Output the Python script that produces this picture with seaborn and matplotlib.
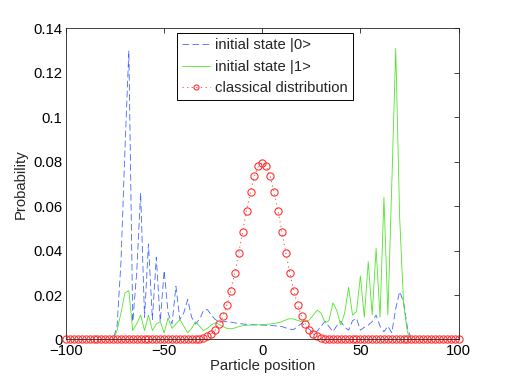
import matplotlib
matplotlib.use("Agg")
import matplotlib.pyplot as plt
import seaborn as sns
from matplotlib.ticker import FuncFormatter

# Particle positions (even sites only, 100 steps)
positions = list(range(-100, 101, 2))

# Probabilities, x = -100 ... 100
state0 = [
    0, 0, 0, 0, 0, 0, 0, 0, 0, 0, 0, 0, 0,                      # -100 .. -76
    0.006, 0.035, 0.085, 0.130, 0.008, 0.030, 0.066, 0.010,      # -74 .. -60
    0.043, 0.009, 0.037, 0.008, 0.031, 0.012, 0.007, 0.024,      # -58 .. -44
    0.009, 0.012, 0.018, 0.010, 0.007, 0.009, 0.013, 0.0135,     # -42 .. -28
    0.011, 0.009, 0.008, 0.008, 0.008, 0.0078, 0.0075, 0.0072,   # -26 .. -12
    0.007, 0.0068, 0.0067, 0.0066, 0.0065, 0.0065, 0.0064,       # -10 .. 2
    0.0063, 0.0062, 0.006, 0.0058, 0.0052, 0.0046, 0.0045,       # 4 .. 16
    0.0058, 0.0073, 0.0062, 0.0045, 0.0032, 0.0038, 0.006,       # 18 .. 30
    0.0082, 0.0058, 0.0035, 0.0062, 0.0082, 0.0055, 0.0042,      # 32 .. 44
    0.0085, 0.0095, 0.0042, 0.0055, 0.0065, 0.008, 0.011,        # 46 .. 58
    0.006, 0.0035, 0.006, 0.003, 0.014, 0.0215, 0.017, 0.005,    # 60 .. 74
    0, 0, 0, 0, 0, 0, 0, 0, 0, 0, 0, 0, 0,                      # 76 .. 100
]

state1 = [
    0, 0, 0, 0, 0, 0, 0, 0, 0, 0, 0, 0, 0,                      # -100 .. -76
    0.004, 0.012, 0.021, 0.022, 0.004, 0.007, 0.011, 0.004,      # -74 .. -60
    0.011, 0.004, 0.007, 0.008, 0.003, 0.0098, 0.005, 0.007,     # -58 .. -44
    0.009, 0.006, 0.003, 0.005, 0.008, 0.006, 0.004, 0.005,      # -42 .. -28
    0.0065, 0.0075, 0.0068, 0.0058, 0.005, 0.0048, 0.0052,       # -26 .. -14
    0.0058, 0.0062, 0.0064, 0.0065, 0.0066, 0.0066, 0.0067,      # -12 .. 0
    0.0068, 0.007, 0.0072, 0.0075, 0.008, 0.0088, 0.0094,        # 2 .. 14
    0.0092, 0.0086, 0.008, 0.0082, 0.0088, 0.011, 0.0132,        # 16 .. 28
    0.0118, 0.0075, 0.0085, 0.0165, 0.013, 0.0065, 0.012,        # 30 .. 42
    0.0235, 0.011, 0.0125, 0.0286, 0.010, 0.035, 0.011, 0.041,   # 44 .. 58
    0.010, 0.064, 0.011, 0.070, 0.131, 0.055, 0.016, 0.003,      # 60 .. 74
    0, 0, 0, 0, 0, 0, 0, 0, 0, 0, 0, 0, 0,                      # 76 .. 100
]

classical = [
    0, 0, 0, 0, 0, 0, 0, 0, 0, 0, 0, 0, 0, 0, 0, 0, 0, 0,       # -100 .. -66
    0, 0, 0, 0, 0, 0, 0, 0, 0, 0, 0, 0, 0, 0,                   # -64 .. -38
    0.0001, 0.0002, 0.0004, 0.0008, 0.0014, 0.0025, 0.0042,     # -36 .. -24
    0.0068, 0.0105, 0.0155, 0.0220, 0.0300, 0.0390, 0.0485,     # -22 .. -10
    0.0580, 0.0666, 0.0735, 0.0780, 0.0796, 0.0780, 0.0735,     # -8 .. 4
    0.0666, 0.0580, 0.0485, 0.0390, 0.0300, 0.0220, 0.0155,     # 6 .. 18
    0.0105, 0.0068, 0.0042, 0.0025, 0.0014, 0.0008, 0.0004,     # 20 .. 32
    0.0002, 0.0001,                                             # 34 .. 36
    0, 0, 0, 0, 0, 0, 0, 0, 0, 0, 0, 0, 0, 0, 0, 0,             # 38 .. 68
    0, 0, 0, 0, 0, 0, 0, 0, 0, 0, 0, 0, 0, 0, 0, 0,             # 70 .. 100
]

sns.set_style("white")
plt.rcParams["font.family"] = ["Liberation Sans", "DejaVu Sans"]
plt.rcParams["font.size"] = 10.7

fig = plt.figure(figsize=(5.08, 3.82), dpi=100)
ax = fig.add_axes([0.130, 0.1113, 0.7726, 0.8141])

sns.lineplot(x=positions, y=state0, ax=ax, errorbar=None, color="#4466ff",
             linewidth=0.6, linestyle=(0, (8, 4)), label="initial state |0>")
sns.lineplot(x=positions, y=state1, ax=ax, errorbar=None, color="#4ee62a",
             linewidth=0.6, label="initial state |1>")
sns.lineplot(x=positions, y=classical, ax=ax, errorbar=None, color="#ff3333",
             linewidth=0.6, linestyle=(0, (1.5, 4)), marker="o", markersize=5.2,
             markerfacecolor="none", markeredgecolor="#ff3333", markeredgewidth=0.8,
             clip_on=False, label="classical distribution")

ax.set_xlim(-100, 100)
ax.set_ylim(0, 0.14)
ax.set_xticks([-100, -50, 0, 50, 100])
ax.set_yticks([0, 0.02, 0.04, 0.06, 0.08, 0.1, 0.12, 0.14])
ax.yaxis.set_major_formatter(FuncFormatter(lambda v, p: "%g" % round(v, 2)))
ax.tick_params(direction="in", length=3.5, width=0.6, top=True, right=True,
               colors="#222222", labelcolor="black", labelsize=10.7)
ax.tick_params(axis="y", pad=2.5)
ax.tick_params(axis="x", pad=3)
for s in ax.spines.values():
    s.set_color("#222222")
    s.set_linewidth(0.6)

ax.set_xlabel("Particle position", labelpad=1)
ax.set_ylabel("Probability", labelpad=4)

leg = ax.legend(loc="upper left", bbox_to_anchor=(0.282, 0.985), frameon=True,
                fancybox=False, edgecolor="black", framealpha=1,
                handlelength=1.9, handletextpad=0.3, borderpad=0.35,
                labelspacing=0.5, borderaxespad=0, markerscale=0.7)
leg.get_frame().set_linewidth(0.7)

fig.savefig("out.png", dpi=100)
